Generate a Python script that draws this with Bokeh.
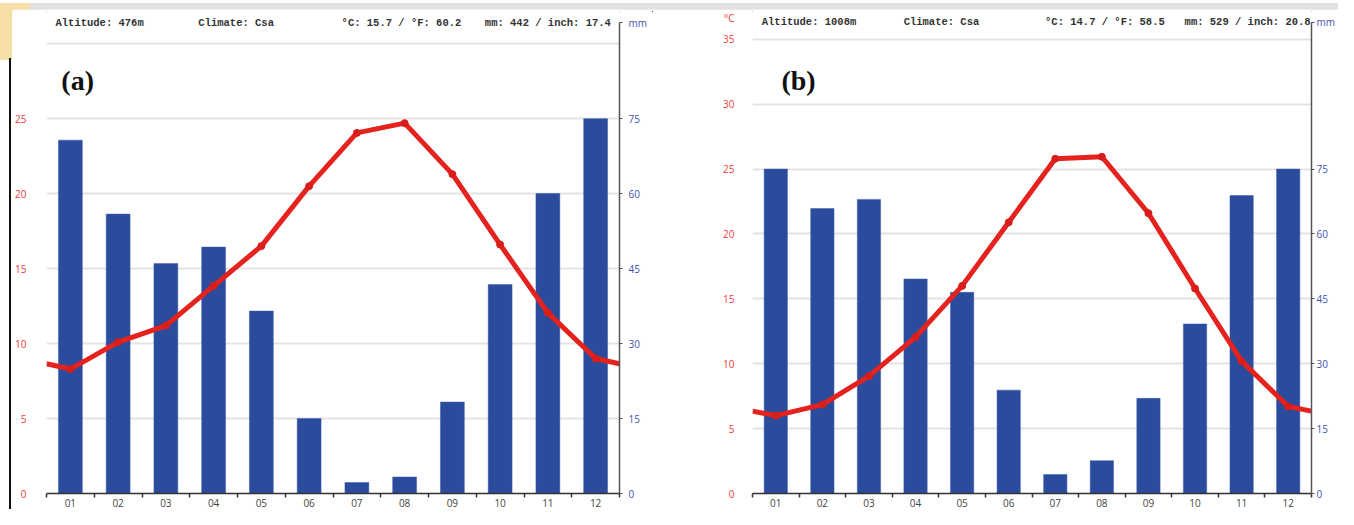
from bokeh.plotting import figure
from bokeh.models import Range1d, LinearAxis, FixedTicker, Label, Div
from bokeh.layouts import row, column
from bokeh.embed import file_html
from bokeh.resources import INLINE

months = ["01", "02", "03", "04", "05", "06", "07", "08", "09", "10", "11", "12"]

# panel (a)
temp_a = [8.3, 10.1, 11.2, 13.85, 16.5, 20.5, 24.05, 24.7, 21.3, 16.6, 12.05, 9.0]
prec_a = [70.7, 55.9, 46.0, 49.3, 36.5, 15.0, 2.2, 3.3, 18.3, 41.8, 60.0, 75.0]
header_a = ["Altitude: 476m", "Climate: Csa", "°C: 15.7 / °F: 60.2", "mm: 442 / inch: 17.4"]
temp_ticks_a = [0, 5, 10, 15, 20, 25, 30]

# panel (b)
temp_b = [6.0, 6.85, 9.05, 12.05, 16.0, 20.9, 25.8, 25.95, 21.6, 15.8, 10.2, 6.7]
prec_b = [75.0, 65.9, 68.0, 49.6, 46.5, 23.9, 4.4, 7.6, 22.0, 39.2, 68.9, 75.0]
header_b = ["Altitude: 1008m", "Climate: Csa", "°C: 14.7 / °F: 58.5", "mm: 529 / inch: 20.8"]
temp_ticks_b = [0, 5, 10, 15, 20, 25, 30, 35]

prec_ticks = [0, 15, 30, 45, 60, 75]

RED = "#ee3a3a"
LINE_RED = "#e4221e"
BLUE_BAR = "#2b4c9c"
BLUE_TXT = "#4352b0"
GRID = "#e4e4e4"

H = 500          # figure height (a 9px band sits above)
MBB = 16


def make_panel(temp, prec, header, temp_ticks, ymax, width, mbl, mbr,
               left_standoff, right_standoff, header_x, header_y, mm_top,
               deg_tick, tag, tag_x, tag_y, hide_top_label):
    centers = [i + 0.5 for i in range(12)]
    p = figure(width=width, height=H, x_range=Range1d(0, 12),
               y_range=Range1d(0, ymax), output_backend="svg",
               toolbar_location=None, min_border_left=mbl, min_border_right=mbr,
               min_border_top=0, min_border_bottom=MBB)
    p.outline_line_color = None
    p.background_fill_color = "white"
    p.border_fill_color = "white"
    p.extra_y_ranges = {"mm": Range1d(0, ymax * 3)}

    # grid
    p.xgrid.grid_line_color = None
    p.ygrid.ticker = FixedTicker(ticks=temp_ticks)
    p.ygrid.grid_line_color = GRID
    p.ygrid.grid_line_width = 2

    # x axis
    xa = p.xaxis[0]
    xa.ticker = FixedTicker(ticks=centers, minor_ticks=list(range(13)))
    xa.major_label_overrides = {c: m for c, m in zip(centers, months)}
    xa.major_tick_in = 0
    xa.major_tick_out = 0
    xa.minor_tick_in = 0
    xa.minor_tick_out = 4
    xa.minor_tick_line_color = "#333333"
    xa.minor_tick_line_width = 1.5
    xa.axis_line_color = "#333333"
    xa.axis_line_width = 1.5
    xa.major_label_standoff = 1
    xa.major_label_text_font = "Open Sans"
    xa.major_label_text_font_size = "10px"
    xa.major_label_text_color = "#444444"

    # left axis (temperature), with the unit as its top label
    ya = p.yaxis[0]
    lticks = list(temp_ticks)
    overrides = {}
    if deg_tick is not None:
        lticks.append(deg_tick)
        overrides[deg_tick] = "°C"
    if hide_top_label:
        overrides[temp_ticks[-1]] = ""
    ya.ticker = FixedTicker(ticks=lticks)
    ya.major_label_overrides = overrides
    ya.axis_line_color = None
    ya.major_tick_line_color = None
    ya.minor_tick_line_color = None
    ya.major_label_standoff = left_standoff
    ya.major_label_text_font = "Open Sans"
    ya.major_label_text_font_size = "10px"
    ya.major_label_text_color = RED

    # right axis (precipitation), with the unit as its top label
    ra = LinearAxis(y_range_name="mm", ticker=FixedTicker(ticks=prec_ticks + [mm_top]),
                    bounds=(0, mm_top))
    ra.major_label_overrides = {mm_top: "mm"}
    ra.axis_line_color = "#555555"
    ra.axis_line_width = 1.5
    ra.major_tick_in = 0
    ra.major_tick_out = 3
    ra.major_tick_line_color = "#555555"
    ra.minor_tick_line_color = None
    ra.major_label_standoff = right_standoff
    ra.major_label_text_font = "Open Sans"
    ra.major_label_text_font_size = "10px"
    ra.major_label_text_color = BLUE_TXT
    p.add_layout(ra, "right")

    # bars
    p.vbar(x=centers, top=prec, width=0.5, y_range_name="mm",
           fill_color=BLUE_BAR, line_color="#3a5aa8", line_width=0.5)

    # temperature line, wrapped to the edges with the Dec/Jan midpoint
    edge = (temp[0] + temp[-1]) / 2
    p.line(x=[0] + centers + [12], y=[edge] + temp + [edge],
           line_width=5, line_color=LINE_RED, line_join="round")
    p.scatter(x=centers, y=temp, size=7, color="#d81e1a")

    # header texts
    for t, hx in zip(header, header_x):
        p.add_layout(Label(x=hx, y=header_y, text=t, text_font="Liberation Mono",
                           text_font_size="10.5px", text_font_style="bold",
                           text_color="#333333", text_baseline="middle",
                           text_align="left"))
    p.add_layout(Label(x=tag_x, y=tag_y, text=tag, text_font="Liberation Serif",
                       text_font_size="28px", text_font_style="bold",
                       text_color="#111111", text_baseline="middle",
                       text_align="left"))
    return p


pa = make_panel(temp_a, prec_a, header_a, temp_ticks_a, 32.28, 640, 32, 33, 14, 6,
                [0.188, 3.18, 6.18, 9.18], 31.41, 94.2, None,
                "(a)", 0.31, 27.52, True)
pb = make_panel(temp_b, prec_b, header_b, temp_ticks_b, 37.30, 686, 100, 21, 12, 2,
                [0.198, 3.245, 6.28, 9.276], 36.30, 108.9, 36.67,
                "(b)", 0.62, 31.8, False)

# decorations of the source page: top band with rule, beige corner tab, frame line
band = Div(width=1338, height=9, margin=(0, 0, 0, 0), text=(
    '<div style="position:relative;width:1338px;height:9px;overflow:hidden;">'
    '<div style="position:absolute;left:0;top:0;width:1338px;height:7.5px;background:#e2e2e2;"></div>'
    '<div style="position:absolute;left:30px;top:7.5px;width:1308px;height:1.5px;background:#111;"></div>'
    '<div style="position:absolute;left:0;top:0;width:30px;height:9px;background:#f5dfa6;"></div>'
    '</div>'))
side = Div(width=12, height=H, margin=(0, 0, 0, 0), text=(
    '<div style="position:relative;width:12px;height:500px;overflow:hidden;">'
    '<div style="position:absolute;left:0;top:0;width:12px;height:51px;background:#f5dfa6;"></div>'
    '<div style="position:absolute;left:9px;top:49px;width:1.5px;height:451px;background:#111;"></div>'
    '</div>'))

layout = column(band, row(side, pa, pb))
open("out.html", "w").write(file_html(layout, INLINE))
